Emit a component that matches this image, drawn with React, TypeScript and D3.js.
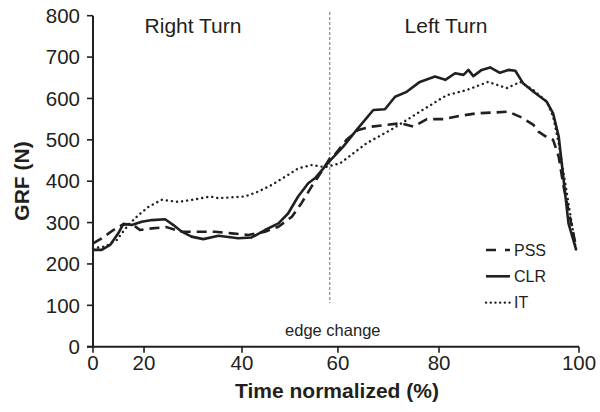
import React from 'react';
import * as d3 from 'd3';

// ---- data ----
const xTicks = [0, 20, 40, 60, 80, 100];
const yTicks = [0, 100, 200, 300, 400, 500, 600, 700, 800];
const edgeChangeTime = 58.3;

const pssTime = [0, 3.4, 8.0, 11.3, 15.2, 18.4, 21.6, 24.6, 27.7, 31.4, 34.5, 37.9, 41.3, 44.8, 47.6, 50.4, 52.4, 54.5, 55.9, 58.3, 59.0, 61.7, 64.0, 66.7, 69.6, 72.3, 74.9, 77.6, 80.6, 83.0, 85.4, 87.8, 89.9, 91.8, 93.5, 94.2, 95.6, 96.3, 97.1, 97.8, 99.6];
const pssGRF = [250, 262, 282, 294, 297, 282, 286, 289, 278, 278, 278, 274, 270, 278, 290, 314, 347, 387, 411, 455, 459, 500, 524, 532, 536, 540, 532, 550, 550, 558, 564, 566, 568, 554, 536, 520, 504, 500, 459, 387, 240];

const clrTime = [0, 3.4, 6.7, 9.9, 11.9, 15.2, 19.1, 21.6, 24.3, 26.0, 27.7, 29.7, 32.1, 35.2, 39.2, 42.0, 44.8, 47.6, 49.6, 51.7, 53.8, 55.2, 58.3, 61.0, 63.7, 67.0, 69.3, 71.3, 73.6, 76.2, 79.2, 80.9, 82.3, 83.5, 84.2, 84.9, 86.1, 87.3, 88.7, 89.9, 90.9, 92.0, 93.5, 95.4, 96.3, 97.1, 97.8, 98.5, 99.6];
const clrGRF = [234, 234, 246, 274, 297, 294, 302, 306, 308, 294, 278, 266, 260, 268, 262, 264, 282, 298, 322, 363, 395, 407, 449, 483, 524, 572, 574, 604, 616, 640, 653, 645, 661, 657, 669, 654, 669, 675, 662, 669, 667, 637, 616, 592, 564, 508, 403, 298, 234];

const itTime = [0, 4.7, 9.3, 13.8, 17.8, 20.9, 23.6, 27.0, 30.4, 33.5, 35.2, 37.9, 40.6, 43.4, 46.2, 49.0, 51.7, 54.5, 57.3, 60.4, 65.7, 71.0, 76.2, 81.1, 83.9, 87.0, 89.7, 91.6, 93.5, 95.4, 96.3, 97.1, 99.6];
const itGRF = [238, 242, 258, 294, 318, 338, 355, 350, 356, 363, 359, 361, 363, 375, 391, 411, 431, 439, 434, 443, 492, 528, 568, 608, 620, 640, 625, 640, 620, 592, 556, 492, 232];

const seriesNames = ['PSS', 'CLR', 'IT'];
const phaseLabels = ['Right Turn', 'Left Turn'];

// ---- layout ----
const W = 600;
const H = 412;
const left = 93;
const right = 579;
const top = 15.7;
const bottom = 346.7;
const xTickFractions = [0, 0.105, 0.3066, 0.504, 0.712, 1];
const ink = '#231f20';
const font = '"Liberation Sans", Arial, Helvetica, sans-serif';

const x = d3.scaleLinear()
  .domain(xTicks)
  .range(xTickFractions.map(f => left + f * (right - left)));
const y = d3.scaleLinear().domain([0, 800]).range([bottom, top]);

const line = d3.line<[number, number]>()
  .x(d => x(d[0]))
  .y(d => y(d[1]))
  .curve(d3.curveLinear);

const zip = (t: number[], v: number[]) => t.map((ti, i) => [ti, v[i]] as [number, number]);

const styles: Record<string, { dash?: string; width: number; cap: string; legendDash?: string }> = {
  PSS: { dash: '10,6', width: 2.6, cap: 'butt', legendDash: '10,9' },
  CLR: { width: 2.6, cap: 'butt' },
  IT: { dash: '0.1,5', width: 2.4, cap: 'round', legendDash: '0.1,4.6' },
};

export default function App() {
  const data: Record<string, [number, number][]> = {
    PSS: zip(pssTime, pssGRF),
    CLR: zip(clrTime, clrGRF),
    IT: zip(itTime, itGRF),
  };
  const ex = x(edgeChangeTime);
  return (
    <div>
      <style>{'body{margin:0}'}</style>
      <svg width={W} height={H} style={{ display: 'block', background: '#fff' }} fontFamily={font}>
        {/* edge change line */}
        <line x1={ex} x2={ex} y1={12} y2={303} stroke="#6d6d6d" strokeWidth={1} strokeDasharray="3,2" />
        <text x={ex + 3} y={336} fontSize={16.5} textAnchor="middle" fill={ink}>edge change</text>
        {/* phase labels */}
        <text x={x(30)} y={33} fontSize={21} textAnchor="middle" fill={ink}>{phaseLabels[0]}</text>
        <text x={x(81)} y={33} fontSize={21} textAnchor="middle" fill={ink}>{phaseLabels[1]}</text>

        {/* series */}
        {seriesNames.map(n => (
          <path key={n} d={line(data[n]) || ''} fill="none" stroke={ink}
            strokeWidth={styles[n].width} strokeDasharray={styles[n].dash}
            strokeLinecap={styles[n].cap as any} strokeLinejoin="round" />
        ))}

        {/* axes */}
        <line x1={left} x2={left} y1={y(800)} y2={bottom} stroke={ink} strokeWidth={2} />
        <line x1={left - 6} x2={right} y1={bottom} y2={bottom} stroke={ink} strokeWidth={2} />
        {yTicks.map(t => (
          <g key={'y' + t}>
            <line x1={left - 6} x2={left} y1={y(t)} y2={y(t)} stroke={ink} strokeWidth={1.6} />
            <text x={80} y={y(t)} dy="0.35em" fontSize={20.5} textAnchor="end" fill={ink}>{t}</text>
          </g>
        ))}
        {xTicks.map(t => (
          <g key={'x' + t}>
            <line x1={x(t)} x2={x(t)} y1={bottom} y2={bottom + 6} stroke={ink} strokeWidth={1.6} />
            <text x={x(t)} y={370} fontSize={20.5} textAnchor="middle" fill={ink}>{t}</text>
          </g>
        ))}
        <text x={337} y={398} fontSize={21} fontWeight="bold" textAnchor="middle" fill={ink}>Time normalized (%)</text>
        <text transform={`translate(29,${181}) rotate(-90)`} fontSize={21} fontWeight="bold" textAnchor="middle" fill={ink}>GRF (N)</text>

        {/* legend */}
        {seriesNames.map((n, i) => {
          const ly = 250 + i * 26.3;
          return (
            <g key={'lg' + n}>
              <line x1={486} x2={510} y1={ly} y2={ly} stroke={ink} strokeWidth={styles[n].width}
                strokeDasharray={styles[n].legendDash} strokeLinecap={styles[n].cap as any} />
              <text x={514} y={ly} dy="0.36em" fontSize={16} fill={ink}>{n}</text>
            </g>
          );
        })}
      </svg>
    </div>
  );
}
